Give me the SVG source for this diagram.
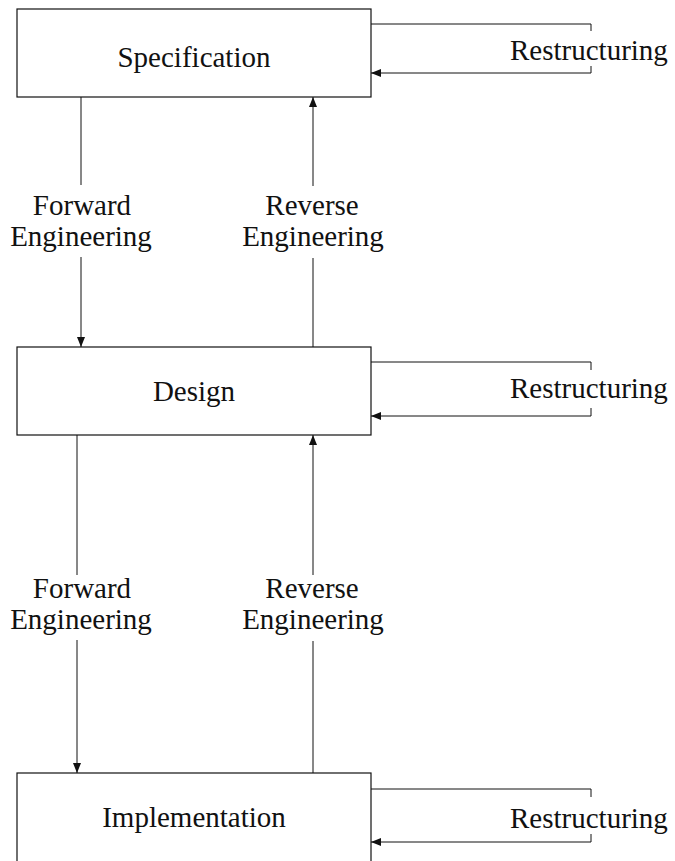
<svg xmlns="http://www.w3.org/2000/svg" width="675" height="861" viewBox="0 0 675 861">
  <style>
    .box { fill: #ffffff; stroke: #111111; stroke-width: 1.2; }
    .line { fill: none; stroke: #111111; stroke-width: 1; }
    .label { font-family: "Liberation Serif", "Times New Roman", serif; font-size: 29px; fill: #111111; }
    .mid { text-anchor: middle; }
  </style>
  <defs>
    <marker id="arrow" viewBox="0 0 10 8" refX="10" refY="4" markerWidth="10" markerHeight="8" markerUnits="userSpaceOnUse" orient="auto">
      <path d="M0,0 L10,4 L0,8 Z" fill="#111111"/>
    </marker>
  </defs>
  <rect width="675" height="861" fill="#ffffff"/>

  <!-- Stages -->
  <g id="specification">
    <rect class="box" x="17" y="9" width="354" height="88"/>
    <text class="label mid" x="194" y="67">Specification</text>
  </g>
  <g id="design">
    <rect class="box" x="17" y="347" width="354" height="88"/>
    <text class="label mid" x="194" y="401">Design</text>
  </g>
  <g id="implementation">
    <!-- bottom edge runs past the lower border -->
    <rect class="box" x="17" y="773" width="354" height="120"/>
    <text class="label mid" x="194" y="827">Implementation</text>
  </g>

  <!-- Connectors -->
  <g id="connectors">
    <!-- Specification -> Design (forward) -->
    <line class="line" x1="81" y1="97" x2="81" y2="185"/>
    <line class="line" x1="81" y1="257" x2="81" y2="347" marker-end="url(#arrow)"/>
    <!-- Design -> Specification (reverse) -->
    <line class="line" x1="313" y1="347" x2="313" y2="258"/>
    <line class="line" x1="313" y1="186" x2="313" y2="97" marker-end="url(#arrow)"/>
    <!-- Design -> Implementation (forward) -->
    <line class="line" x1="77" y1="435" x2="77" y2="575"/>
    <line class="line" x1="77" y1="640" x2="77" y2="773" marker-end="url(#arrow)"/>
    <!-- Implementation -> Design (reverse) -->
    <line class="line" x1="313" y1="773" x2="313" y2="641"/>
    <line class="line" x1="313" y1="575" x2="313" y2="435" marker-end="url(#arrow)"/>

    <!-- Restructuring loops -->
    <polyline class="line" points="371,24 591,24 591,31"/>
    <polyline class="line" points="591,66 591,73 371,73" marker-end="url(#arrow)"/>
    <polyline class="line" points="371,362 591,362 591,370"/>
    <polyline class="line" points="591,408 591,416 371,416" marker-end="url(#arrow)"/>
    <polyline class="line" points="371,789 591,789 591,797"/>
    <polyline class="line" points="591,834 591,842 371,842" marker-end="url(#arrow)"/>
  </g>

  <!-- Edge labels -->
  <g id="labels">
    <text class="label mid" x="82" y="215">Forward</text>
    <text class="label mid" x="81" y="246">Engineering</text>
    <text class="label mid" x="312" y="215">Reverse</text>
    <text class="label mid" x="313" y="246">Engineering</text>
    <text class="label mid" x="82" y="598">Forward</text>
    <text class="label mid" x="81" y="629">Engineering</text>
    <text class="label mid" x="312" y="598">Reverse</text>
    <text class="label mid" x="313" y="629">Engineering</text>
    <text class="label" x="510" y="60">Restructuring</text>
    <text class="label" x="510" y="398">Restructuring</text>
    <text class="label" x="510" y="828">Restructuring</text>
  </g>
</svg>
